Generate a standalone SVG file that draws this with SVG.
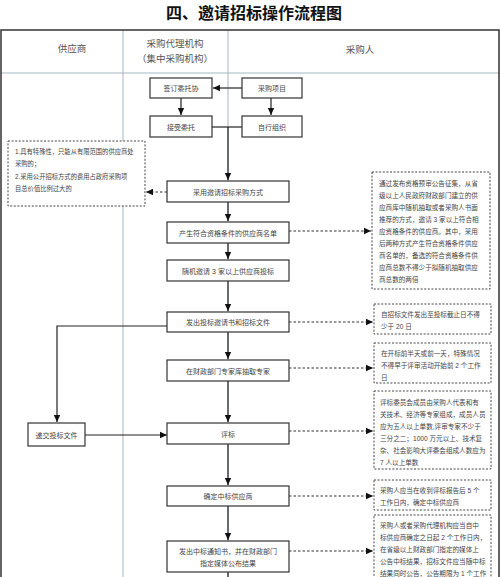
<svg xmlns="http://www.w3.org/2000/svg" width="500" height="577" viewBox="0 0 500 577">
<style>
text{font-family:"Liberation Sans","Noto Sans CJK SC",sans-serif;fill:#444}
.t{font-size:7px;text-anchor:middle}
.n{font-size:6.6px}
.h{font-size:9.5px;text-anchor:middle;fill:#555}
.box{fill:#fff;stroke:#333;stroke-width:1.2}
.dbox{fill:#fff;stroke:#444;stroke-width:1;stroke-dasharray:2,1.6}
.lane{stroke:#a7b6c2;stroke-width:1;fill:none}
.c{stroke:#222;stroke-width:1.2;fill:none}
.cd{stroke:#333;stroke-width:1.2;fill:none;stroke-dasharray:2.5,2}
</style>
<defs>
<marker id="ah" markerUnits="userSpaceOnUse" markerWidth="8" markerHeight="8" refX="7" refY="4" orient="auto">
<path d="M0,0.8 L7,4 L0,7.2 Z" fill="#111"/>
</marker>
</defs>
<rect width="500" height="577" fill="#fff"/>
<text x="254" y="19" style="font-size:16px;font-weight:bold;text-anchor:middle;fill:#111">四、邀请招标操作流程图</text>
<g id="lanes">
<line class="lane" x1="1" y1="73" x2="499" y2="73"/>
<line class="lane" x1="123" y1="30" x2="123" y2="577"/>
<line class="lane" x1="228" y1="30" x2="228" y2="577"/>
<path d="M1,577 V30 H499 V577" fill="none" stroke="#333" stroke-width="1.5"/>
<text class="h" x="72" y="52">供应商</text>
<text class="h" x="175" y="47">采购代理机构</text>
<text class="h" x="175" y="62">（集中采购机构）</text>
<text class="h" x="360" y="53">采购人</text>
</g>
<g id="connectors">
<line class="c" x1="242" y1="88" x2="213" y2="88" marker-end="url(#ah)"/>
<line class="c" x1="181" y1="98" x2="181" y2="115" marker-end="url(#ah)"/>
<line class="c" x1="271" y1="98" x2="271" y2="115" marker-end="url(#ah)"/>
<polyline class="c" points="212,127 228,127 242,127"/>
<line class="c" x1="228" y1="127" x2="228" y2="180" marker-end="url(#ah)"/>
<line class="cd" x1="167" y1="192" x2="146" y2="192" marker-end="url(#ah)"/>
<line class="c" x1="228" y1="202" x2="228" y2="221" marker-end="url(#ah)"/>
<line class="cd" x1="289" y1="231" x2="371" y2="231" marker-end="url(#ah)"/>
<line class="c" x1="228" y1="243" x2="228" y2="259" marker-end="url(#ah)"/>
<line class="c" x1="228" y1="281" x2="228" y2="311" marker-end="url(#ah)"/>
<line class="cd" x1="289" y1="322" x2="373" y2="322" marker-end="url(#ah)"/>
<polyline class="c" points="167,326 57,326 57,422" marker-end="url(#ah)"/>
<line class="c" x1="228" y1="332" x2="228" y2="359" marker-end="url(#ah)"/>
<line class="cd" x1="289" y1="368" x2="373" y2="368" marker-end="url(#ah)"/>
<line class="c" x1="228" y1="381" x2="228" y2="422" marker-end="url(#ah)"/>
<line class="c" x1="85" y1="435" x2="167" y2="435" marker-end="url(#ah)"/>
<line class="cd" x1="289" y1="431" x2="373" y2="431" marker-end="url(#ah)"/>
<line class="c" x1="228" y1="444" x2="228" y2="485" marker-end="url(#ah)"/>
<line class="cd" x1="289" y1="496" x2="373" y2="496" marker-end="url(#ah)"/>
<line class="c" x1="228" y1="506" x2="228" y2="540" marker-end="url(#ah)"/>
<line class="cd" x1="289" y1="551" x2="373" y2="551" marker-end="url(#ah)"/>
<line class="c" x1="228" y1="572" x2="228" y2="577"/>
</g>
<g id="n-sign"><rect class="box" x="150" y="78" width="62" height="20"/><text class="t" x="181" y="91">签订委托协</text></g>
<g id="n-project"><rect class="box" x="242" y="78" width="60" height="20"/><text class="t" x="272" y="91">采购项目</text></g>
<g id="n-accept"><rect class="box" x="150" y="116" width="62" height="21"/><text class="t" x="181" y="129.5">接受委托</text></g>
<g id="n-self"><rect class="box" x="242" y="116" width="60" height="21"/><text class="t" x="272" y="129.5">自行组织</text></g>
<g id="n-cond">
<rect class="dbox" x="8" y="141" width="137" height="65"/>
<text class="n" x="15" y="154" style="font-size:6.3px">1.具有特殊性，只能从有限范围的供应商处</text>
<text class="n" x="15" y="166" style="font-size:6.3px">采购的；</text>
<text class="n" x="15" y="179" style="font-size:6.3px">2.采用公开招标方式的费用占政府采购项</text>
<text class="n" x="15" y="191" style="font-size:6.3px">目总价值比例过大的</text>
</g>
<g id="n-adopt"><rect class="box" x="167" y="181" width="122" height="21"/><text class="t" x="228" y="194.5">采用邀请招标采购方式</text></g>
<g id="n-list"><rect class="box" x="167" y="222" width="122" height="21"/><text class="t" x="228" y="235.5">产生符合资格条件的供应商名单</text></g>
<g id="n-invite"><rect class="box" x="167" y="260" width="122" height="21"/><text class="t" x="228" y="273.5">随机邀请 3 家以上供应商投标</text></g>
<g id="n-note1">
<rect class="dbox" x="372" y="172" width="118" height="117"/>
<text class="n" x="379" y="186">通过发布资格预审公告征集，从省</text>
<text class="n" x="379" y="198">级以上人民政府财政部门建立的供</text>
<text class="n" x="379" y="210">应商库中随机抽取或者采购人书面</text>
<text class="n" x="379" y="222">推荐的方式，邀请 3 家以上符合相</text>
<text class="n" x="379" y="234">应资格条件的供应商。其中，采用</text>
<text class="n" x="379" y="246">后两种方式产生符合资格条件供应</text>
<text class="n" x="379" y="258">商名单的，备选的符合资格条件供</text>
<text class="n" x="379" y="270">应商总数不得少于拟随机抽取供应</text>
<text class="n" x="379" y="282">商总数的两倍</text>
</g>
<g id="n-issue"><rect class="box" x="167" y="312" width="122" height="20"/><text class="t" x="228" y="325">发出投标邀请书和招标文件</text></g>
<g id="n-note2">
<rect class="dbox" x="374" y="304" width="117" height="30"/>
<text class="n" x="381" y="317">自招标文件发出至投标截止日不得</text>
<text class="n" x="381" y="329">少于 20 日</text>
</g>
<g id="n-expert"><rect class="box" x="167" y="360" width="122" height="21"/><text class="t" x="228" y="373.5">在财政部门专家库抽取专家</text></g>
<g id="n-note3">
<rect class="dbox" x="374" y="343" width="117" height="40"/>
<text class="n" x="381" y="356">在开标前半天或前一天，特殊情况</text>
<text class="n" x="381" y="368">不得早于评审活动开始前 2 个工作</text>
<text class="n" x="381" y="380">日</text>
</g>
<g id="n-submit"><rect class="box" x="28" y="423" width="57" height="23"/><text class="t" x="56.5" y="437.5">递交投标文件</text></g>
<g id="n-eval"><rect class="box" x="167" y="423" width="122" height="21"/><text class="t" x="228" y="436.5">评标</text></g>
<g id="n-note4">
<rect class="dbox" x="374" y="391" width="117" height="78"/>
<text class="n" x="380" y="405">评标委员会成员由采购人代表和有</text>
<text class="n" x="380" y="417">关技术、经济等专家组成，成员人员</text>
<text class="n" x="380" y="429">应为五人以上单数,评审专家不少于</text>
<text class="n" x="380" y="441">三分之二；1000 万元以上、技术复</text>
<text class="n" x="380" y="453">杂、社会影响大评委会组成人数应为</text>
<text class="n" x="380" y="465">7 人以上单数</text>
</g>
<g id="n-winner"><rect class="box" x="167" y="486" width="122" height="20"/><text class="t" x="228" y="499">确定中标供应商</text></g>
<g id="n-note5">
<rect class="dbox" x="374" y="480" width="117" height="30"/>
<text class="n" x="380" y="493">采购人应当在收到评标报告后 5 个</text>
<text class="n" x="380" y="505">工作日内，确定中标供应商</text>
</g>
<g id="n-notice"><rect class="box" x="167" y="541" width="122" height="31"/><text class="t" x="228" y="553.5">发出中标通知书，并在财政部门</text><text class="t" x="228" y="566">指定媒体公布结果</text></g>
<g id="n-note6">
<rect class="dbox" x="374" y="515" width="117" height="70"/>
<text class="n" x="380" y="528">采购人或者采购代理机构应当自中</text>
<text class="n" x="380" y="540">标供应商确定之日起 2 个工作日内，</text>
<text class="n" x="380" y="552">在省级以上财政部门指定的媒体上</text>
<text class="n" x="380" y="564">公告中标结果，招标文件应当随中标</text>
<text class="n" x="380" y="576">结果同时公告，公告期限为 1 个工作</text>
</g>
</svg>
